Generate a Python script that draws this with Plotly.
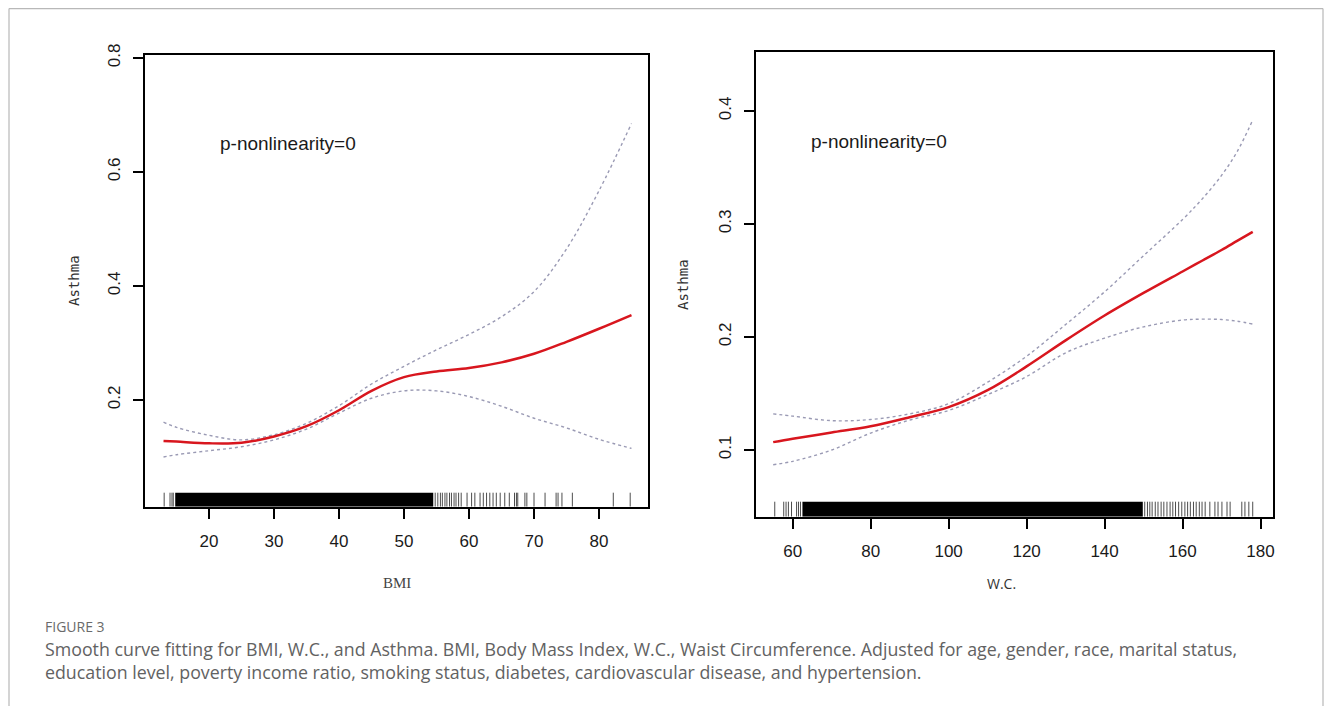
import plotly.graph_objects as go

W, H = 1333, 706
OFF = 8  # browser body margin offset

# ---------------- data: BMI panel ----------------
bmi_x = [13, 15, 20, 25, 30, 35, 40, 45, 50, 55, 60, 65, 70, 75, 80, 85]
bmi_fit = [0.128, 0.127, 0.124, 0.125, 0.136, 0.154, 0.182, 0.216, 0.240, 0.250, 0.256, 0.266, 0.281, 0.302, 0.325, 0.349]
bmi_upper = [0.161, 0.152, 0.138, 0.130, 0.139, 0.159, 0.190, 0.228, 0.259, 0.288, 0.315, 0.346, 0.390, 0.465, 0.567, 0.685]
bmi_lower = [0.100, 0.104, 0.111, 0.118, 0.130, 0.149, 0.177, 0.203, 0.216, 0.216, 0.206, 0.189, 0.168, 0.151, 0.131, 0.115]
bmi_rug_band = [14.8, 54.5]
bmi_rug_ticks = [13.1, 14.0, 14.3, 14.5,
                 54.8, 55.2, 55.6, 55.9, 56.3, 56.6, 57.0, 57.3, 57.7, 58.0, 58.4, 58.8,
                 59.7, 60.4, 60.9, 61.7, 62.2, 62.7, 63.2, 63.7, 64.2, 64.8, 65.5, 66.2,
                 67.0, 67.3, 67.5, 68.6, 68.9, 70.0, 71.7, 73.4, 73.7, 74.3, 75.9, 82.2, 84.8]
bmi_xticks = [20, 30, 40, 50, 60, 70, 80]
bmi_yticks = [0.2, 0.4, 0.6, 0.8]

# ---------------- data: W.C. panel ----------------
wc_x = [55, 60, 70, 80, 90, 100, 110, 120, 130, 140, 150, 160, 165, 170, 174, 178]
wc_fit = [0.107, 0.110, 0.1155, 0.121, 0.129, 0.138, 0.153, 0.174, 0.197, 0.219, 0.239, 0.258, 0.2675, 0.277, 0.285, 0.293]
wc_upper = [0.132, 0.130, 0.126, 0.127, 0.132, 0.141, 0.160, 0.183, 0.211, 0.240, 0.272, 0.304, 0.322, 0.343, 0.364, 0.392]
wc_lower = [0.087, 0.090, 0.100, 0.115, 0.1265, 0.135, 0.149, 0.165, 0.186, 0.199, 0.209, 0.215, 0.2158, 0.2155, 0.214, 0.2115]
wc_rug_band = [62.5, 149.8]
wc_rug_ticks = [55.4, 57.7, 58.3, 58.9, 59.7, 61.0, 61.5, 62.0,
                150.3, 151.0, 151.6, 152.2, 153.0, 153.7, 154.5, 155.2, 156.0, 156.8, 157.5,
                158.2, 159.0, 159.8, 160.6, 161.3, 162.0, 162.8, 163.5, 164.3, 165.0, 165.8,
                167.0, 168.3, 169.1, 170.1, 171.4, 172.2, 175.2, 176.0, 177.0, 178.0]
wc_xticks = [60, 80, 100, 120, 140, 160, 180]
wc_yticks = [0.1, 0.2, 0.3, 0.4]

annotation_text = "p-nonlinearity=0"
y_title = "Asthma"
caption_label = "FIGURE 3"
caption_lines = [
    "Smooth curve fitting for BMI, W.C., and Asthma. BMI, Body Mass Index, W.C., Waist Circumference. Adjusted for age, gender, race, marital status,",
    "education level, poverty income ratio, smoking status, diabetes, cardiovascular disease, and hypertension.",
]

# ---------------- layout geometry (reference pixels) ----------------
L = dict(x0=145, x1=648, y0=54.5, y1=506.7, xr=[10.15, 87.54], yr=[0.0128, 0.806])
R = dict(x0=756, x1=1273, y0=52, y1=516.7, xr=[50.59, 183.2], yr=[0.041, 0.4522])

def px(x):
    return (x - OFF) / W

def py(y):
    return 1 - (y - OFF) / H

RED = "#d8161e"
CI = "#9a9ab4"

fig = go.Figure()

def add_panel(xs, fit, up, lo, band, ticks, xa, ya, geo, rug_px):
    xref = "x" if xa == "x" else "x2"
    yref = "y" if ya == "y" else "y2"
    for s in (up, lo):
        fig.add_trace(go.Scatter(x=xs, y=s, mode="lines", xaxis=xa, yaxis=ya,
                                 line=dict(color=CI, width=1.4, dash="dot", shape="spline", smoothing=1.0),
                                 hoverinfo="skip", showlegend=False))
    fig.add_trace(go.Scatter(x=xs, y=fit, mode="lines", xaxis=xa, yaxis=ya,
                             line=dict(color=RED, width=2.5, shape="spline", smoothing=1.0),
                             showlegend=False))
    yspan = geo["yr"][1] - geo["yr"][0]
    ybot = geo["yr"][0]
    ytop = ybot + yspan * rug_px / (geo["y1"] - geo["y0"])
    rx, ry = [], []
    for t in ticks:
        rx += [t, t, None]
        ry += [ybot, ytop, None]
    fig.add_trace(go.Scatter(x=rx, y=ry, mode="lines", xaxis=xa, yaxis=ya,
                             line=dict(color="rgba(0,0,0,0.7)", width=1),
                             hoverinfo="skip", showlegend=False))
    fig.add_shape(type="rect", xref=xref, yref=yref, x0=band[0], x1=band[1], y0=ybot, y1=ytop,
                  fillcolor="black", line=dict(width=0), layer="above")

add_panel(bmi_x, bmi_fit, bmi_upper, bmi_lower, bmi_rug_band, bmi_rug_ticks, "x", "y", L, 14)
add_panel(wc_x, wc_fit, wc_upper, wc_lower, wc_rug_band, wc_rug_ticks, "x2", "y2", R, 15)

tickfont = dict(family="Liberation Sans, Arial, sans-serif", size=17, color="#1a1a1a")

def axis_common():
    return dict(showline=True, mirror=True, linecolor="black", linewidth=1.6,
                ticks="outside", ticklen=10, tickwidth=1.5, tickcolor="black",
                showgrid=False, zeroline=False, tickfont=tickfont, fixedrange=True,
                automargin=False)

fig.update_layout(
    width=W, height=H,
    margin=dict(l=0, r=0, t=0, b=0, autoexpand=False),
    paper_bgcolor="white", plot_bgcolor="white",
    xaxis=dict(domain=[px(L["x0"]), px(L["x1"])], range=L["xr"], tickvals=bmi_xticks,
               anchor="y", ticklabelstandoff=8, **axis_common()),
    yaxis=dict(domain=[py(L["y1"]), py(L["y0"])], range=L["yr"], tickvals=bmi_yticks,
               anchor="x", tickangle=-90, ticklabelstandoff=6, **axis_common()),
    xaxis2=dict(domain=[px(R["x0"]), px(R["x1"])], range=R["xr"], tickvals=wc_xticks,
                anchor="y2", ticklabelstandoff=8, **axis_common()),
    yaxis2=dict(domain=[py(R["y1"]), py(R["y0"])], range=R["yr"], tickvals=wc_yticks,
                anchor="x2", tickangle=-90, ticklabelstandoff=6, **axis_common()),
    showlegend=False,
)

# outer gray frame
frame = dict(color="#b8b8b8", width=1.2)
fig.add_shape(type="line", xref="paper", yref="paper", x0=px(9), x1=px(1323), y0=py(8.6), y1=py(8.6), line=frame)
fig.add_shape(type="line", xref="paper", yref="paper", x0=px(9), x1=px(9), y0=py(8.6), y1=0, line=frame)
fig.add_shape(type="line", xref="paper", yref="paper", x0=px(1323), x1=px(1323), y0=py(8.6), y1=0, line=frame)

ann = []
pfont = dict(family="Liberation Sans, Arial", size=19, color="#1a1a1a")
ann.append(dict(x=px(218), y=py(143), xref="paper", yref="paper", text=annotation_text, showarrow=False,
                xanchor="left", yanchor="middle", font=pfont))
ann.append(dict(x=px(809), y=py(141), xref="paper", yref="paper", text=annotation_text, showarrow=False,
                xanchor="left", yanchor="middle", font=pfont))
tfont = dict(family="DejaVu Sans Mono, monospace", size=14, color="#333")
ann.append(dict(x=px(74), y=py(281), xref="paper", yref="paper", text=y_title, showarrow=False, textangle=-90,
                xanchor="center", yanchor="middle", font=tfont))
ann.append(dict(x=px(683), y=py(284), xref="paper", yref="paper", text=y_title, showarrow=False, textangle=-90,
                xanchor="center", yanchor="middle", font=tfont))
ann.append(dict(x=px(397), y=py(583), xref="paper", yref="paper", text="BMI", showarrow=False,
                xanchor="center", yanchor="middle", font=dict(family="Liberation Serif, serif", size=15, color="#444")))
ann.append(dict(x=px(1001), y=py(583), xref="paper", yref="paper", text="W.C.", showarrow=False,
                xanchor="center", yanchor="middle", font=dict(family="Open Sans, sans-serif", size=14, color="#333")))
cfont = dict(family="Open Sans, Lato, sans-serif", size=17.8, color="#626262")
ann.append(dict(x=px(43), y=py(626), xref="paper", yref="paper", text=caption_label, showarrow=False,
                xanchor="left", yanchor="middle", font=dict(family="Open Sans, Lato, sans-serif", size=14, color="#6a6a6a")))
ann.append(dict(x=px(43), y=py(649), xref="paper", yref="paper", text=caption_lines[0], showarrow=False,
                xanchor="left", yanchor="middle", font=cfont))
ann.append(dict(x=px(43), y=py(672), xref="paper", yref="paper", text=caption_lines[1], showarrow=False,
                xanchor="left", yanchor="middle", font=cfont))
fig.update_layout(annotations=ann)

fig.write_html("out.html")
